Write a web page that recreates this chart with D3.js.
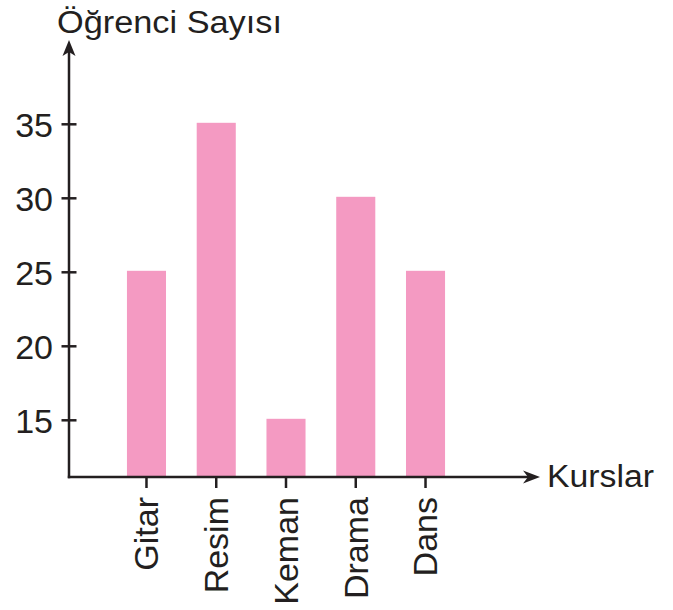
<!DOCTYPE html>
<html>
<head>
<meta charset="utf-8">
<script src="https://cdn.jsdelivr.net/npm/d3@7"></script>
<style>
  html, body { margin: 0; padding: 0; background: #fff; }
  text { font-family: "Liberation Sans", Arial, Helvetica, sans-serif; fill: #231f20; }
</style>
</head>
<body>
<svg id="chart" width="673" height="610"></svg>
<script>
const categories = ["Gitar", "Resim", "Keman", "Drama", "Dans"];
const values = [25, 35, 15, 30, 25];
const yTicks = [15, 20, 25, 30, 35];
const yTitle = "Öğrenci Sayısı";
const xTitle = "Kurslar";

const svg = d3.select("#chart");
const ink = "#231f20";
const barColor = "#f49ac2";

const originX = 69, originY = 477;
const yTop = 40, xRight = 540;

const x = d3.scaleBand()
  .domain(categories)
  .range([111.6, 460.4])
  .paddingInner(0.44)
  .paddingOuter(0.22);

const y = d3.scaleLinear()
  .domain([15, 35])
  .range([420.3, 124.3]);

// bars
svg.append("g").selectAll("rect")
  .data(categories.map((c, i) => ({ c, v: values[i] })))
  .join("rect")
  .attr("x", d => x(d.c))
  .attr("width", x.bandwidth())
  .attr("y", d => y(d.v) - 1.5)
  .attr("height", d => originY - y(d.v) + 1.5)
  .attr("fill", barColor);

// y axis line
svg.append("line")
  .attr("x1", originX).attr("x2", originX)
  .attr("y1", originY + 1.2).attr("y2", yTop + 12)
  .attr("stroke", ink).attr("stroke-width", 2.5);
// y arrow
svg.append("path")
  .attr("d", `M${originX},${yTop} L${originX - 6.5},${yTop + 16} L${originX},${yTop + 12} L${originX + 6.5},${yTop + 16} Z`)
  .attr("fill", ink);

// x axis line
svg.append("line")
  .attr("x1", originX - 1.2).attr("x2", xRight - 12)
  .attr("y1", originY).attr("y2", originY)
  .attr("stroke", ink).attr("stroke-width", 2.5);
// x arrow
svg.append("path")
  .attr("d", `M${xRight},${originY} L${xRight - 17},${originY - 6.5} L${xRight - 12},${originY} L${xRight - 17},${originY + 6.5} Z`)
  .attr("fill", ink);

// y ticks + labels
const yAxisG = svg.append("g");
yTicks.forEach(t => {
  yAxisG.append("line")
    .attr("x1", originX - 7.5).attr("x2", originX + 7.5)
    .attr("y1", y(t)).attr("y2", y(t))
    .attr("stroke", ink).attr("stroke-width", 2.5);
  yAxisG.append("text")
    .attr("x", 53).attr("y", y(t))
    .attr("dy", "0.36em")
    .attr("text-anchor", "end")
    .attr("font-size", 34)
    .text(t);
});

// x ticks + labels
const xAxisG = svg.append("g");
categories.forEach(c => {
  const cx = x(c) + x.bandwidth() / 2;
  xAxisG.append("line")
    .attr("x1", cx).attr("x2", cx)
    .attr("y1", originY).attr("y2", originY + 11)
    .attr("stroke", ink).attr("stroke-width", 2.5);
  xAxisG.append("text")
    .attr("transform", `translate(${cx},497) rotate(-90)`)
    .attr("dy", "0.35em")
    .attr("text-anchor", "end")
    .attr("font-size", 34)
    .text(c);
});

// titles
svg.append("text")
  .attr("x", 57).attr("y", 32.5)
  .attr("font-size", 31)
  .attr("textLength", 225)
  .attr("lengthAdjust", "spacingAndGlyphs")
  .text(yTitle);

svg.append("text")
  .attr("x", 547).attr("y", 487)
  .attr("font-size", 31)
  .attr("textLength", 107)
  .attr("lengthAdjust", "spacingAndGlyphs")
  .text(xTitle);
</script>
</body>
</html>
